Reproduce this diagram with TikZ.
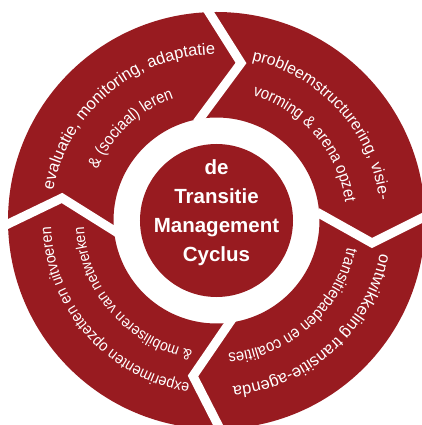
\documentclass[tikz,border=0pt]{standalone}
\usepackage{fontspec}
\setmainfont{Liberation Sans}
\newfontfamily\arcwide{Liberation Sans}
\newfontfamily\arcnarrow[FakeStretch=0.9]{Liberation Sans}
\usetikzlibrary{calc,decorations.text}
\definecolor{cyclered}{RGB}{152,27,32}

\begin{document}
\begin{tikzpicture}[x=1pt,y=1pt,
  gapline/.style={draw=white, line width=9pt, line join=miter},
  hubtext/.style={text=white, align=center, font=\bfseries\fontsize{20.5}{29}\selectfont},
  arclabel/.style={decorate, decoration={text along path, text align=center, text color=white, text={#1}}}]
%% Frame
\useasboundingbox (-216.5,-204.5) rectangle (205.5,220.5);
\clip (-216.5,-204.5) rectangle (205.5,220.5);
%% Ring of the four arrows
\fill[cyclered, even odd rule] (0,0) circle[radius=208.5] (0,0) circle[radius=103];
%% Chevron cuts: outer end / tip / inner end
\foreach \ox/\oy/\tx/\ty/\ix/\iy in {-8/209/24.5/157.5/-15.5/103.5,
    205.5/2.5/155.5/-22.5/105.5/5.5,
    1.5/-204.5/-23.5/-155.5/13.5/-101.5,
    -208.5/-3.5/-154.5/22.5/-103.5/-9.5}{
  \draw[gapline] ($(\tx,\ty)!1.3!(\ox,\oy)$) -- (\tx,\ty) -- ($(\tx,\ty)!1.1!(\ix,\iy)$);
}
%% Hub
\fill[cyclered] (0,0) circle[radius=76.5];
\node[hubtext] (hub) at (0,7.5) {de\\Transitie\\Management\\Cyclus};
%% Labels along the arrows (clockwise)
\path[arclabel={|\arcwide\fontsize{16.5}{19}\selectfont|evaluatie, monitoring, adaptatie}]
  (180:166) arc[start angle=180, end angle=80, radius=166];
\path[arclabel={|\arcnarrow\fontsize{16.5}{19}\selectfont|{\&} (sociaal) leren}]
  (183:129.5) arc[start angle=183, end angle=83, radius=129.5];
\path[arclabel={|\arcwide\fontsize{16}{19}\selectfont|probleemstructurering, visie-}]
  (92.3:164) arc[start angle=92.3, end angle=-7.7, radius=164];
\path[arclabel={|\arcnarrow\fontsize{16.5}{19}\selectfont|vorming {\&} arena opzet}]
  (91:130) arc[start angle=91, end angle=-9, radius=130];
\path[arclabel={|\arcwide\fontsize{16.5}{19}\selectfont|ontwikkeling transitie-agenda}]
  (2:167) arc[start angle=2, end angle=-98, radius=167];
\path[arclabel={|\arcnarrow\fontsize{16.4}{19}\selectfont|transitiepaden en coalities}]
  (1.6:133.5) arc[start angle=1.6, end angle=-98.4, radius=133.5];
\path[arclabel={|\arcnarrow\fontsize{15.8}{19}\selectfont|experimenten opzetten en uitvoeren}]
  (-88.5:165.5) arc[start angle=-88.5, end angle=-188.5, radius=165.5];
\path[arclabel={|\arcnarrow\fontsize{15.4}{19}\selectfont|{\&} mobiliseren van netwerken}]
  (-88.8:132.5) arc[start angle=-88.8, end angle=-188.8, radius=132.5];
\end{tikzpicture}
\end{document}
